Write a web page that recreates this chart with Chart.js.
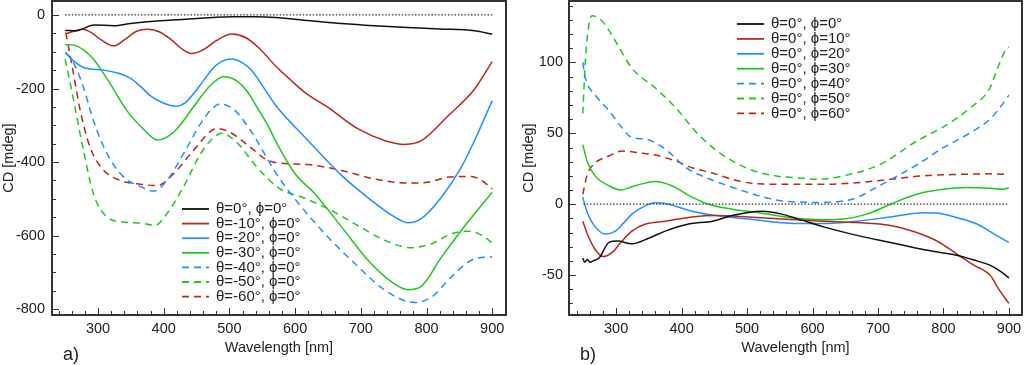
<!doctype html>
<html>
<head>
<title>CD spectra</title>
<script src="https://cdn.jsdelivr.net/npm/chart.js@4.4.1/dist/chart.umd.min.js"></script>
<style>
  body { margin: 0; background: #fff; }
  .panel { position: absolute; top: 0; height: 365px; }
  #left { left: 0; width: 515px; }
  #right { left: 515px; width: 509px; }
</style>
</head>
<body>
<div class="panel" id="left"><canvas id="chartA"></canvas></div>
<div class="panel" id="right"><canvas id="chartB"></canvas></div>
<script>
// ---- data (wavelength nm, CD mdeg) ----
var xTicks = [300, 400, 500, 600, 700, 800, 900];
var yTicksA = [0, -200, -400, -600, -800];
var yTicksB = [-50, 0, 50, 100];
var zeroLine = [[250, 0], [900, 0]];

// panel a) : theta sweep, phi = 0
var theta0 = [[250,-42],[268,-43],[280,-35],[293,-27],[324,-29],[350,-23],[380,-18],[420,-13],[456,-9],[506,-5],[540,-5],[570,-7],[620,-15],[671,-23],[720,-29],[772,-34],[820,-38],[873,-43],[900,-52]];
var thetaM10 = [[251,-51],[262,-45],[276,-39],[290,-48],[305,-68],[324,-84],[340,-68],[358,-45],[375,-39],[392,-45],[410,-65],[430,-95],[443,-105],[460,-95],[480,-70],[504,-52],[525,-62],[545,-90],[570,-138],[592,-175],[615,-211],[650,-251],[696,-310],[737,-342],[767,-352],[792,-342],[833,-274],[873,-202],[900,-127]];
var thetaM20 = [[250,-102],[263,-125],[278,-143],[308,-150],[330,-158],[349,-172],[365,-195],[380,-220],[400,-240],[420,-248],[432,-240],[445,-215],[460,-180],[476,-143],[490,-125],[504,-120],[518,-128],[532,-147],[555,-205],[570,-245],[620,-342],[671,-437],[716,-504],[752,-550],[772,-565],[792,-554],[823,-495],[853,-414],[873,-342],[900,-233]];
var thetaM30 = [[250,-81],[263,-82],[278,-95],[293,-120],[305,-150],[319,-188],[344,-260],[369,-310],[390,-340],[405,-332],[420,-310],[445,-251],[471,-192],[491,-168],[511,-179],[528,-210],[542,-251],[560,-305],[570,-342],[600,-432],[630,-486],[671,-577],[711,-667],[747,-726],[772,-747],[792,-738],[823,-658],[853,-586],[900,-482]];
var thetaM40 = [[251,-103],[258,-116],[268,-150],[278,-197],[293,-287],[314,-378],[339,-441],[364,-466],[385,-479],[405,-450],[430,-378],[456,-296],[472,-258],[486,-242],[506,-256],[525,-295],[542,-342],[570,-428],[610,-523],[650,-604],[691,-676],[737,-749],[782,-782],[808,-767],[838,-712],[873,-663],[900,-658]];
var thetaM50 = [[250,-120],[256,-170],[263,-233],[278,-369],[293,-486],[314,-550],[339,-563],[364,-566],[387,-572],[405,-540],[430,-468],[456,-378],[475,-335],[488,-322],[511,-346],[542,-414],[577,-473],[610,-495],[650,-527],[691,-568],[737,-613],[777,-633],[808,-622],[838,-595],[863,-588],[884,-599],[900,-620]];
var thetaM60 = [[251,-48],[261,-143],[273,-260],[288,-360],[309,-423],[334,-450],[359,-459],[390,-464],[415,-432],[445,-369],[481,-309],[501,-319],[532,-360],[557,-394],[577,-403],[620,-407],[671,-423],[721,-446],[772,-457],[802,-455],[833,-441],[868,-439],[884,-450],[900,-473]];

// panel b) : phi sweep, theta = 0
var phi0 = [[249,-38],[252,-41],[256,-39],[260,-41],[265,-40],[274,-38],[289,-27],[302,-26],[324,-28],[350,-24],[375,-19],[411,-14],[447,-12],[477,-8],[500,-6],[523,-5],[553,-7],[575,-10],[617,-16],[668,-22],[719,-27],[769,-32],[820,-36],[851,-40],[871,-43],[886,-47],[900,-52]];
var phi10 = [[249,-12],[256,-21],[268,-32],[280,-37],[294,-34],[309,-26],[324,-19],[345,-14],[375,-12],[416,-9],[452,-8],[502,-9],[574,-11],[617,-12],[668,-13],[719,-15],[759,-20],[790,-26],[820,-35],[846,-43],[871,-50],[886,-61],[900,-70]];
var phi20 = [[249,5],[256,-6],[268,-16],[284,-21],[299,-19],[312,-13],[324,-7],[345,-1],[360,1],[380,0],[416,-5],[452,-8],[502,-10.5],[574,-13.6],[617,-13.6],[668,-12],[719,-9],[769,-6],[790,-6.3],[820,-9.4],[851,-14],[881,-22],[900,-27]];
var phi30 = [[249,42],[256,30],[268,20],[289,13],[307,10],[329,13],[360,16],[385,13],[416,5],[441,0],[477,-3.5],[518,-6],[574,-10],[617,-11],[647,-10.5],[683,-7],[719,0],[759,7],[800,10.5],[836,11.7],[871,11.2],[891,10.5],[900,11.7]];
var phi40 = [[249,100],[253,89],[268,77],[289,66],[309,54],[324,47],[345,46],[365,42],[385,35],[406,26],[436,19],[477,12],[518,6],[553,2.3],[574,1.6],[617,1.2],[642,1.9],[668,4.7],[698,12],[734,21],[769,30.5],[800,40],[836,49],[871,60],[886,68],[900,77]];
var phi50 = [[249,64],[254,108],[263,133],[279,129],[299,115],[324,96],[360,82],[391,68],[426,49],[462,35],[502,25],[543,20],[574,18.7],[607,17.6],[647,20],[703,28],[759,44.5],[805,56],[841,68],[871,82],[881,94],[894,108],[900,111]];
var phi60 = [[249,7],[256,21],[268,29],[289,34],[309,37.5],[335,36.3],[360,34.7],[391,30.5],[416,25.7],[447,22],[477,17.6],[513,14.5],[574,14],[617,14],[668,15.2],[719,17.6],[769,20],[820,21],[871,21.4],[900,21]];

var BLACK = '#111111', RED = '#b8281e', BLUE = '#1e90ff', GREEN = '#1ec81e';
var DASH = [7, 5];
var FONT = '"Liberation Sans", Arial, Helvetica, sans-serif';

function pts(arr) {
  return arr.map(function(p) { return {x: p[0], y: p[1]}; });
}

function series(label, arr, color, dashed) {
  return {
    label: label,
    data: pts(arr),
    borderColor: color,
    borderWidth: 1.5,
    borderDash: dashed ? DASH : [],
    pointRadius: 0,
    fill: false,
    cubicInterpolationMode: 'monotone'
  };
}

function zeroSeries() {
  return {
    label: '',
    data: pts(zeroLine),
    borderColor: '#333',
    borderWidth: 1.3,
    borderDash: [1.5, 1.8],
    pointRadius: 0,
    fill: false
  };
}

// frame, inward ticks, legend and panel letter
var framePlugin = {
  id: 'frame',
  afterDraw: function(chart, args, o) {
    var ctx = chart.ctx, a = chart.chartArea;
    var x = chart.scales.x, y = chart.scales.y;
    ctx.save();
    ctx.strokeStyle = '#333';
    ctx.lineWidth = 1;
    ctx.beginPath();
    for (var v = o.xMinorStart; v <= 900; v += 20) {
      var px = Math.round(x.getPixelForValue(v)) + 0.5;
      var len = (v % 100 === 0) ? 7 : 4;
      ctx.moveTo(px, a.bottom);
      ctx.lineTo(px, a.bottom - len);
    }
    for (var w = o.yMinorStart; w <= o.yMinorEnd; w += o.yMinor) {
      var py = Math.round(y.getPixelForValue(w)) + 0.5;
      var l2 = (w % o.yMajor === 0) ? 7 : 4;
      ctx.moveTo(a.left, py);
      ctx.lineTo(a.left + l2, py);
    }
    ctx.stroke();

    ctx.lineWidth = 2;
    ctx.strokeStyle = '#333';
    ctx.strokeRect(a.left, a.top, a.right - a.left, a.bottom - a.top);

    // legend
    ctx.font = '15px ' + FONT;
    ctx.textBaseline = 'middle';
    ctx.textAlign = 'left';
    var row = 0;
    chart.data.datasets.forEach(function(ds) {
      if (!ds.label) return;
      var ly = o.legendY + row * o.legendRow;
      ctx.beginPath();
      ctx.strokeStyle = ds.borderColor;
      ctx.lineWidth = 1.8;
      ctx.setLineDash(ds.borderDash);
      ctx.moveTo(o.legendX, ly);
      ctx.lineTo(o.legendX + 27, ly);
      ctx.stroke();
      ctx.setLineDash([]);
      ctx.fillStyle = '#222';
      ctx.fillText(ds.label, o.legendX + 34, ly);
      row++;
    });

    ctx.font = '18px ' + FONT;
    ctx.fillStyle = '#222';
    ctx.fillText(o.letter, o.letterX, 355);
    ctx.restore();
  }
};

function makeChart(id, datasets, yMin, yMax, yTicks, opts) {
  var ctx = document.getElementById(id).getContext('2d');
  return new Chart(ctx, {
    type: 'line',
    data: {datasets: datasets},
    plugins: [framePlugin],
    options: {
      responsive: true,
      maintainAspectRatio: false,
      animation: false,
      layout: {padding: {left: 0, right: opts.padRight, top: 1, bottom: 0}},
      plugins: {
        legend: {display: false},
        tooltip: {enabled: false},
        frame: opts.frame
      },
      scales: {
        x: {
          type: 'linear',
          min: opts.xMin, max: opts.xMax,
          afterBuildTicks: function(s) { s.ticks = xTicks.map(function(v) { return {value: v}; }); },
          afterFit: function(s) { s.height = 50; s.paddingLeft = 0; s.paddingRight = 0; },
          grid: {display: false, drawTicks: false},
          border: {display: false},
          ticks: {color: '#222', padding: 5, font: {family: FONT, size: 14.5}, maxRotation: 0},
          title: {display: true, text: 'Wavelength [nm]', color: '#222',
                  font: {family: FONT, size: 14.5}, padding: {top: 0, bottom: 8}}
        },
        y: {
          type: 'linear',
          min: yMin, max: yMax,
          afterBuildTicks: function(s) { s.ticks = yTicks.map(function(v) { return {value: v}; }); },
          afterFit: function(s) { s.width = opts.yWidth; s.paddingTop = 0; s.paddingBottom = 0; },
          grid: {display: false, drawTicks: false},
          border: {display: false},
          ticks: {color: '#222', padding: opts.yPad, font: {family: FONT, size: 14.5}},
          title: {display: true, text: 'CD [mdeg]', color: '#222',
                  font: {family: FONT, size: 14.5}, padding: {top: opts.yTitlePad, bottom: 0}}
        }
      }
    }
  });
}

makeChart('chartA', [
  zeroSeries(),
  series('θ=0°, ϕ=0°', theta0, BLACK, false),
  series('θ=-10°, ϕ=0°', thetaM10, RED, false),
  series('θ=-20°, ϕ=0°', thetaM20, BLUE, false),
  series('θ=-30°, ϕ=0°', thetaM30, GREEN, false),
  series('θ=-40°, ϕ=0°', thetaM40, BLUE, true),
  series('θ=-50°, ϕ=0°', thetaM50, GREEN, true),
  series('θ=-60°, ϕ=0°', thetaM60, RED, true)
], -816, 38, yTicksA, {
  xMin: 230, xMax: 921, padRight: 9, yWidth: 52, yPad: 7, yTitlePad: 0,
  frame: {xMinorStart: 240, yMinorStart: -800, yMinorEnd: 0, yMinor: 50, yMajor: 200,
          legendX: 182, legendY: 209, legendRow: 14.6, letter: 'a)', letterX: 63}
});

makeChart('chartB', [
  zeroSeries(),
  series('θ=0°, ϕ=0°', phi0, BLACK, false),
  series('θ=0°, ϕ=10°', phi10, RED, false),
  series('θ=0°, ϕ=20°', phi20, BLUE, false),
  series('θ=0°, ϕ=30°', phi30, GREEN, false),
  series('θ=0°, ϕ=40°', phi40, BLUE, true),
  series('θ=0°, ϕ=50°', phi50, GREEN, true),
  series('θ=0°, ϕ=60°', phi60, RED, true)
], -78.2, 143.4, yTicksB, {
  xMin: 228, xMax: 920, padRight: 2, yWidth: 54, yPad: 6, yTitlePad: 5,
  frame: {xMinorStart: 240, yMinorStart: -70, yMinorEnd: 140, yMinor: 10, yMajor: 50,
          legendX: 222, legendY: 24, legendRow: 14.9, letter: 'b)', letterX: 65}
});
</script>
</body>
</html>
